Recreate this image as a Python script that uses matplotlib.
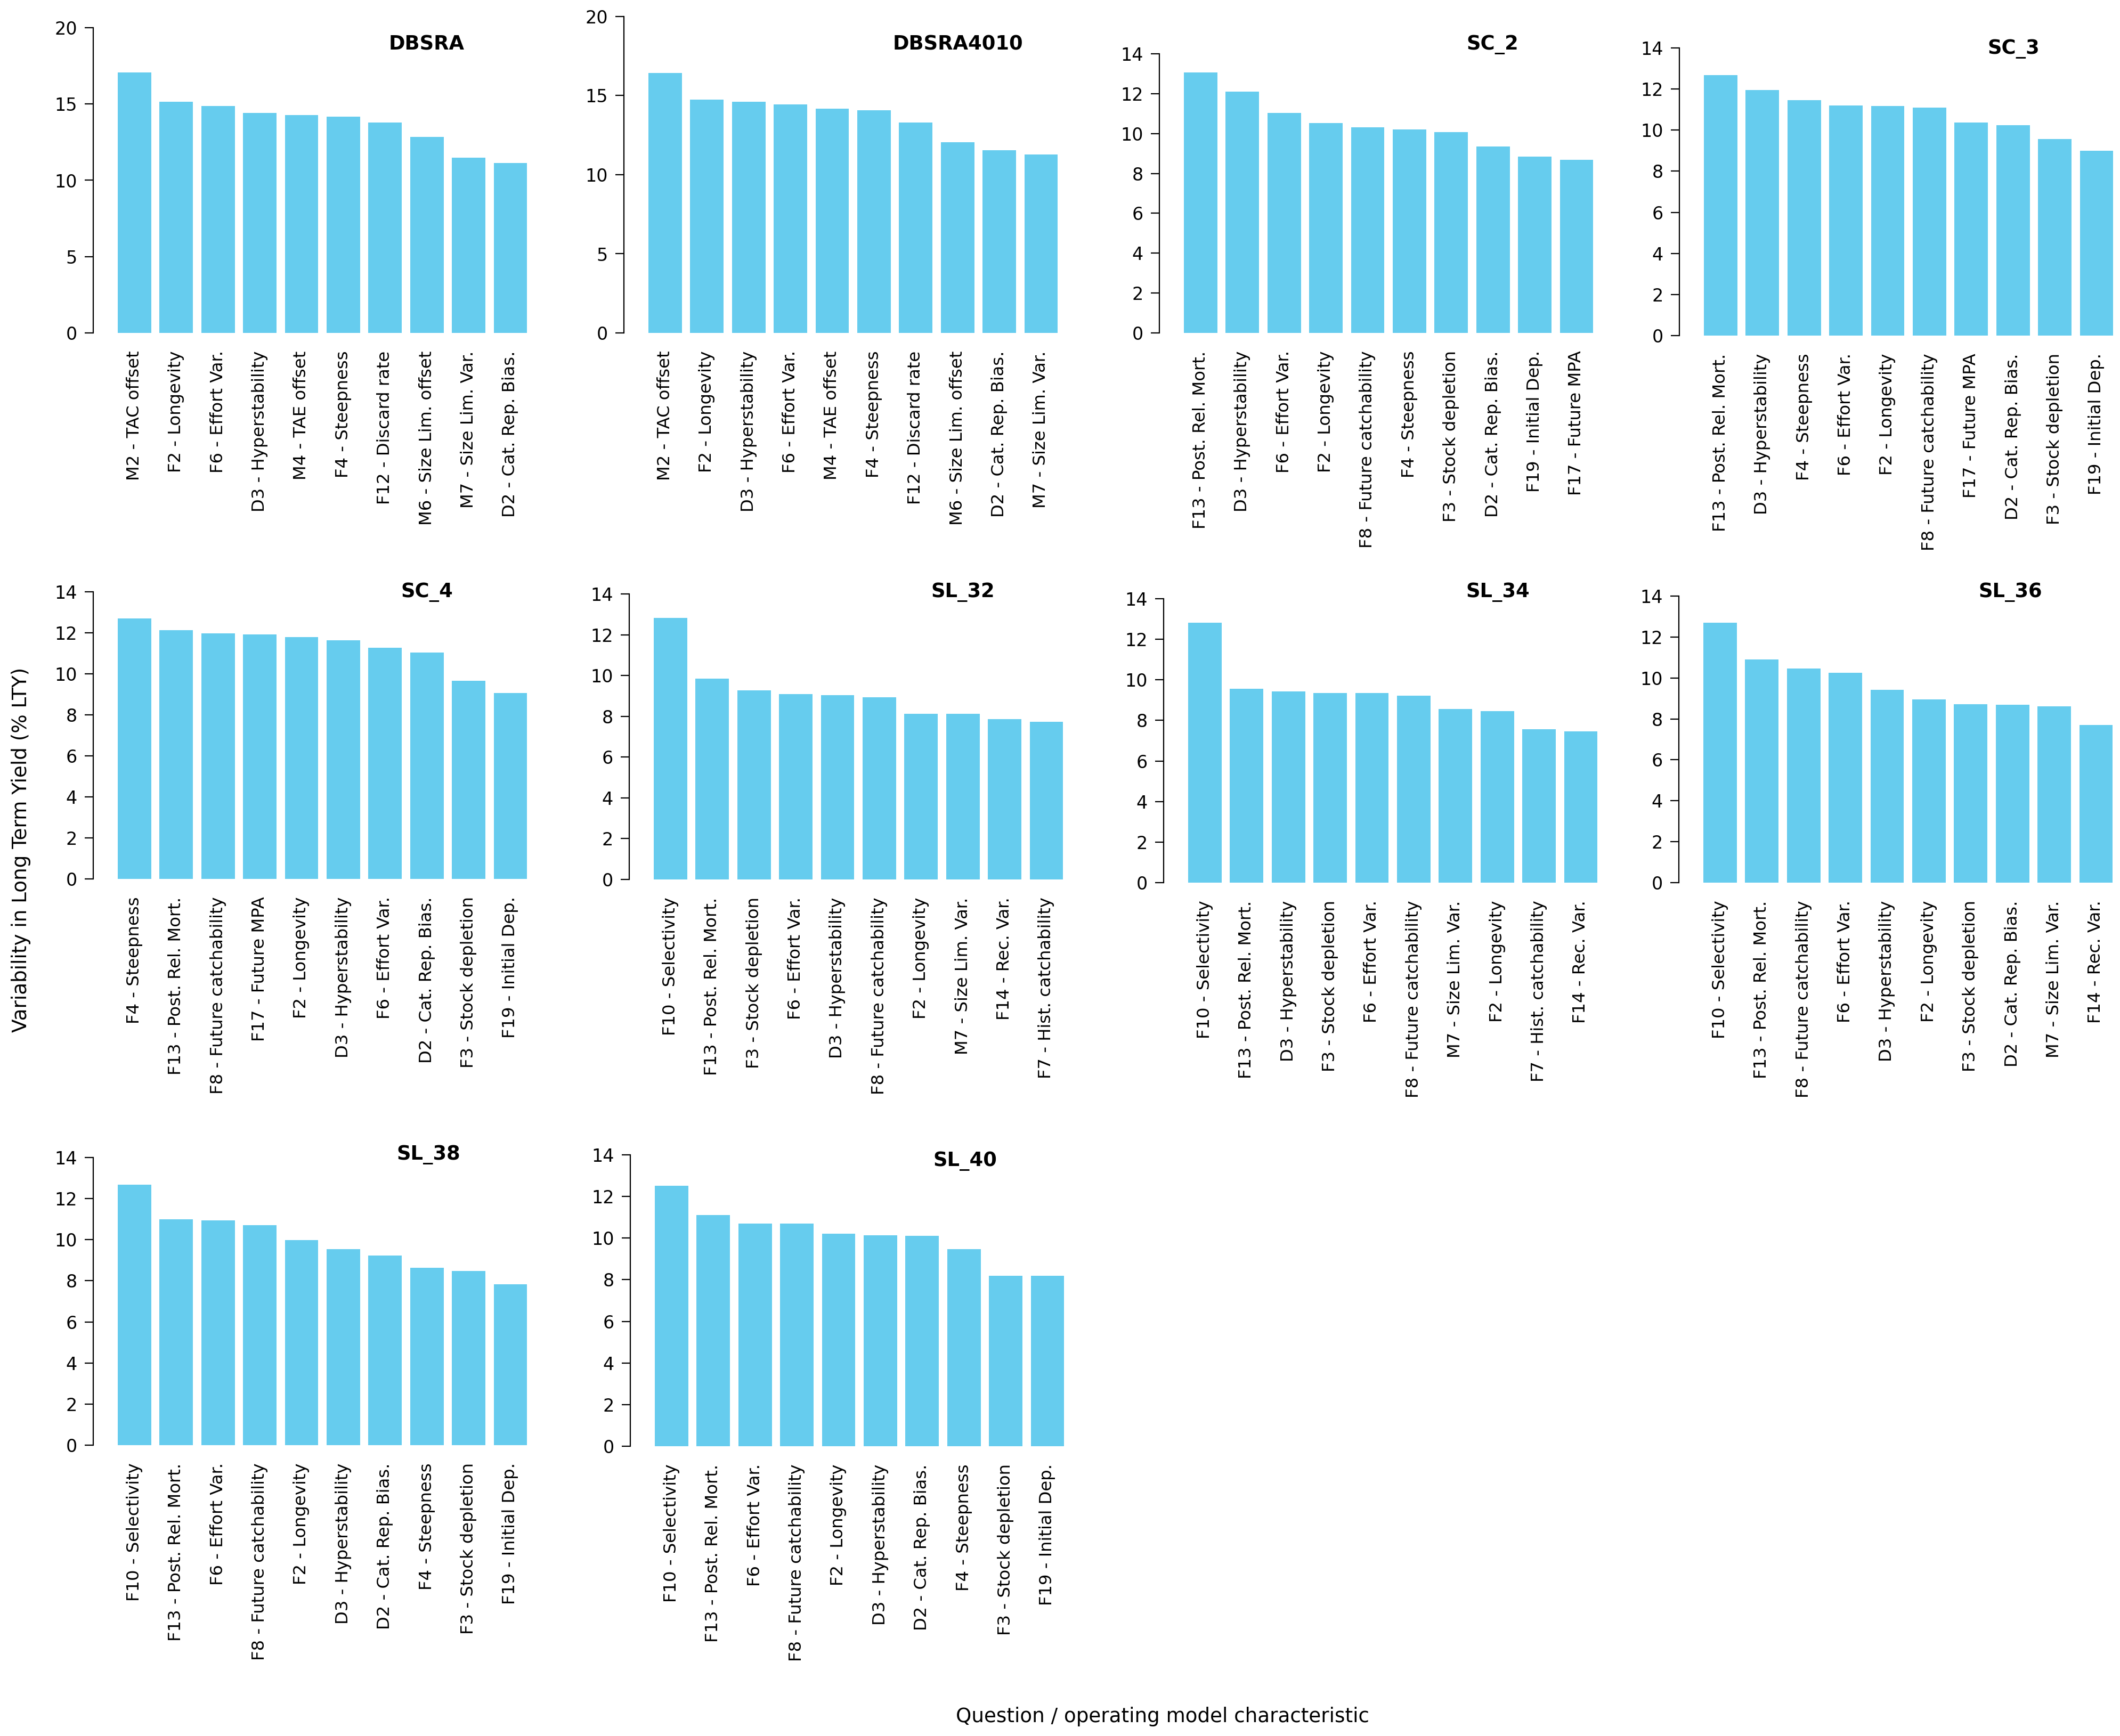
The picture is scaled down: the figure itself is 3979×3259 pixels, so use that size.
import matplotlib
matplotlib.use("Agg")
import matplotlib.pyplot as plt
from matplotlib.ticker import MultipleLocator

# data per operating model (sorted as in the figure)

titles = ["DBSRA", "DBSRA4010", "SC_2", "SC_3", "SC_4",
          "SL_32", "SL_34", "SL_36", "SL_38", "SL_40"]

labels_dbsra = ["M2 - TAC offset", "F2 - Longevity", "F6 - Effort Var.", "D3 - Hyperstability",
                "M4 - TAE offset", "F4 - Steepness", "F12 - Discard rate", "M6 - Size Lim. offset",
                "M7 - Size Lim. Var.", "D2 - Cat. Rep. Bias."]
vals_dbsra = [17.07, 15.16, 14.87, 14.40, 14.27, 14.18, 13.77, 12.86, 11.47, 11.13]

labels_dbsra4010 = ["M2 - TAC offset", "F2 - Longevity", "D3 - Hyperstability", "F6 - Effort Var.",
                    "M4 - TAE offset", "F4 - Steepness", "F12 - Discard rate", "M6 - Size Lim. offset",
                    "D2 - Cat. Rep. Bias.", "M7 - Size Lim. Var."]
vals_dbsra4010 = [16.44, 14.76, 14.61, 14.43, 14.17, 14.07, 13.31, 12.04, 11.56, 11.28]

labels_sc2 = ["F13 - Post. Rel. Mort.", "D3 - Hyperstability", "F6 - Effort Var.", "F2 - Longevity",
              "F8 - Future catchability", "F4 - Steepness", "F3 - Stock depletion",
              "D2 - Cat. Rep. Bias.", "F19 - Initial Dep.", "F17 - Future MPA"]
vals_sc2 = [13.06, 12.10, 11.04, 10.54, 10.32, 10.20, 10.08, 9.34, 8.84, 8.67]

labels_sc3 = ["F13 - Post. Rel. Mort.", "D3 - Hyperstability", "F4 - Steepness", "F6 - Effort Var.",
              "F2 - Longevity", "F8 - Future catchability", "F17 - Future MPA",
              "D2 - Cat. Rep. Bias.", "F3 - Stock depletion", "F19 - Initial Dep."]
vals_sc3 = [12.69, 11.96, 11.46, 11.21, 11.17, 11.09, 10.36, 10.23, 9.56, 9.00]

labels_sc4 = ["F4 - Steepness", "F13 - Post. Rel. Mort.", "F8 - Future catchability", "F17 - Future MPA",
              "F2 - Longevity", "D3 - Hyperstability", "F6 - Effort Var.", "D2 - Cat. Rep. Bias.",
              "F3 - Stock depletion", "F19 - Initial Dep."]
vals_sc4 = [12.70, 12.12, 11.97, 11.92, 11.80, 11.64, 11.27, 11.04, 9.67, 9.06]

labels_sl32 = ["F10 - Selectivity", "F13 - Post. Rel. Mort.", "F3 - Stock depletion", "F6 - Effort Var.",
               "D3 - Hyperstability", "F8 - Future catchability", "F2 - Longevity",
               "M7 - Size Lim. Var.", "F14 - Rec. Var.", "F7 - Hist. catchability"]
vals_sl32 = [12.83, 9.84, 9.27, 9.09, 9.05, 8.92, 8.13, 8.13, 7.86, 7.73]

labels_sl34 = ["F10 - Selectivity", "F13 - Post. Rel. Mort.", "D3 - Hyperstability", "F3 - Stock depletion",
               "F6 - Effort Var.", "F8 - Future catchability", "M7 - Size Lim. Var.", "F2 - Longevity",
               "F7 - Hist. catchability", "F14 - Rec. Var."]
vals_sl34 = [12.82, 9.56, 9.44, 9.34, 9.34, 9.22, 8.56, 8.45, 7.57, 7.47]

labels_sl36 = ["F10 - Selectivity", "F13 - Post. Rel. Mort.", "F8 - Future catchability", "F6 - Effort Var.",
               "D3 - Hyperstability", "F2 - Longevity", "F3 - Stock depletion", "D2 - Cat. Rep. Bias.",
               "M7 - Size Lim. Var.", "F14 - Rec. Var."]
vals_sl36 = [12.71, 10.91, 10.46, 10.26, 9.43, 8.94, 8.73, 8.69, 8.61, 7.69]

labels_sl38 = ["F10 - Selectivity", "F13 - Post. Rel. Mort.", "F6 - Effort Var.", "F8 - Future catchability",
               "F2 - Longevity", "D3 - Hyperstability", "D2 - Cat. Rep. Bias.", "F4 - Steepness",
               "F3 - Stock depletion", "F19 - Initial Dep."]
vals_sl38 = [12.67, 11.00, 10.94, 10.71, 9.97, 9.53, 9.24, 8.63, 8.49, 7.84]

labels_sl40 = ["F10 - Selectivity", "F13 - Post. Rel. Mort.", "F6 - Effort Var.", "F8 - Future catchability",
               "F2 - Longevity", "D3 - Hyperstability", "D2 - Cat. Rep. Bias.", "F4 - Steepness",
               "F3 - Stock depletion", "F19 - Initial Dep."]
vals_sl40 = [12.52, 11.11, 10.71, 10.71, 10.20, 10.14, 10.10, 9.47, 8.20, 8.20]

all_labels = [labels_dbsra, labels_dbsra4010, labels_sc2, labels_sc3, labels_sc4,
              labels_sl32, labels_sl34, labels_sl36, labels_sl38, labels_sl40]
all_vals = [vals_dbsra, vals_dbsra4010, vals_sc2, vals_sc3, vals_sc4,
            vals_sl32, vals_sl34, vals_sl36, vals_sl38, vals_sl40]
y_max = [20, 20, 14, 14, 14, 14, 14, 14, 14, 14]
y_step = [5, 5, 2, 2, 2, 2, 2, 2, 2, 2]

# layout (pixels in the final image): spine x, zero line y, top of axis y, title centre
W, H = 3980, 3259
DPI = 200
ax_left = [175, 1171, 2176, 3152, 175, 1181, 2184, 3151, 175, 1183]
ax_zero = [625, 625, 625, 630, 1650, 1651, 1657, 1657, 2713, 2715]
ax_top = [52, 31, 101, 90, 1111, 1115, 1124, 1119, 2173, 2168]
title_xy = [(801, 83), (1798, 83), (2801, 83), (3779, 92), (801, 1111),
            (1807, 1112), (2811, 1111), (3773, 1112), (804, 2167), (1811, 2180)]
unit_px = 78.4
gap_units = 0.587

bar_color = "#66CCEE"

fig = plt.figure(figsize=(W / DPI, H / DPI), dpi=DPI)

for i in range(len(titles)):
    n = len(all_vals[i])
    x0 = -0.4 - gap_units
    x1 = n - 1 + 0.4
    width_px = (x1 - x0) * unit_px
    ax = fig.add_axes([ax_left[i] / W, 1 - ax_zero[i] / H,
                       width_px / W, (ax_zero[i] - ax_top[i]) / H])
    ax.bar(range(n), all_vals[i], width=0.8, color=bar_color)
    ax.set_xlim(x0, x1)
    ax.set_ylim(0, y_max[i])
    ax.yaxis.set_major_locator(MultipleLocator(y_step[i]))
    ax.set_xticks(range(n))
    ax.set_xticklabels(all_labels[i], rotation=90, ha="center", va="top", fontsize=11.6)
    for s in ["top", "right", "bottom"]:
        ax.spines[s].set_visible(False)
    ax.spines["left"].set_linewidth(0.8)
    ax.tick_params(axis="x", length=0, pad=12)
    ax.tick_params(axis="y", length=5.8, width=0.8, pad=5, labelsize=12)
    ax.patch.set_alpha(0)
    fig.text(title_xy[i][0] / W, 1 - title_xy[i][1] / H, titles[i],
             ha="center", va="center", fontsize=13.3, fontweight="bold")

fig.text(40 / W, 1 - 1595 / H, "Variability in Long Term Yield (% LTY)",
         rotation=90, ha="center", va="center", fontsize=13.4)
fig.text(2182 / W, 1 - 3222 / H, "Question / operating model characteristic",
         ha="center", va="center", fontsize=13.4)

fig.savefig("out.png", dpi=DPI)
